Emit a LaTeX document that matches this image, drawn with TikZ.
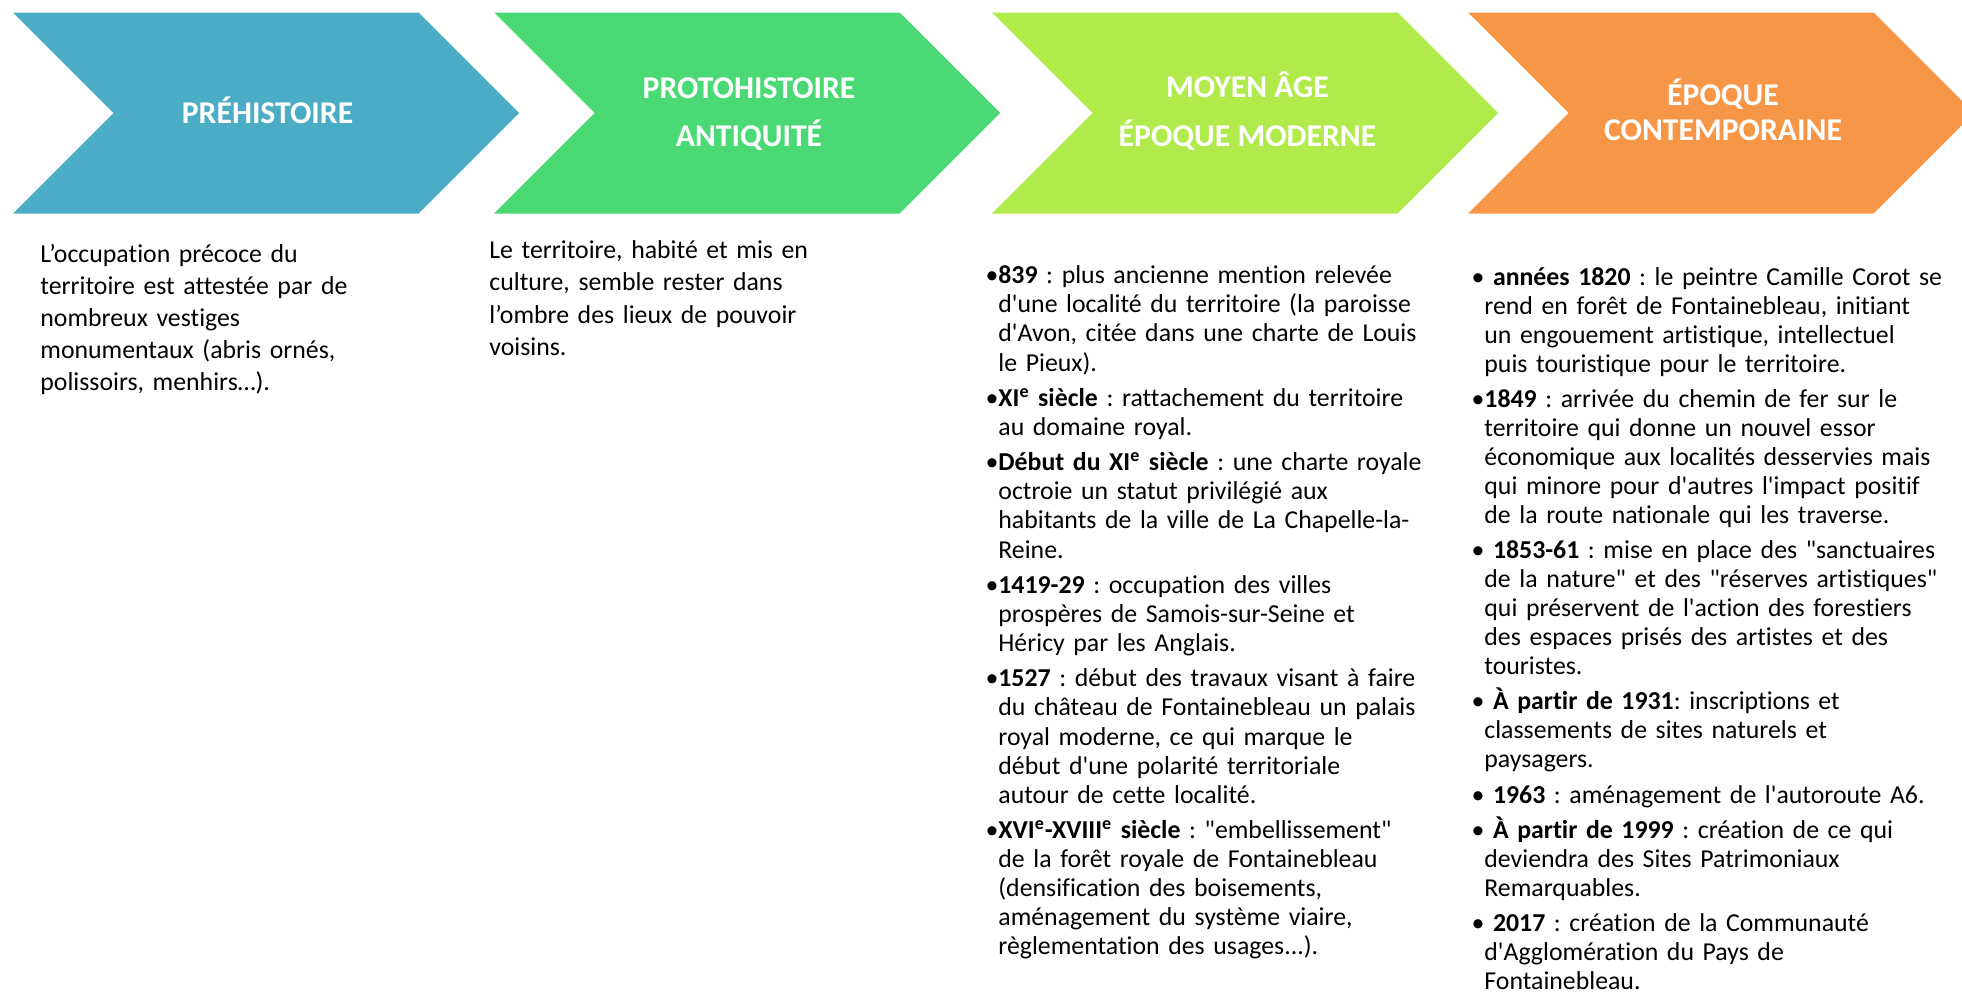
\documentclass[tikz,border=0pt]{standalone}
\usepackage{fontspec}
\setmainfont{Carlito}
\newfontfamily\carl{Carlito}[Ligatures=NoCommon]
\usepackage{tikz}
\definecolor{prehist}{HTML}{4BACC6}
\definecolor{protohist}{HTML}{4AD974}
\definecolor{moyenage}{HTML}{B0EB4B}
\definecolor{contemp}{HTML}{F79646}
\frenchspacing
\newcommand\hdfont{\carl\bfseries\fontsize{15.85pt}{19pt}\selectfont}
\newcommand\txtfont{\carl\fontsize{12.9pt}{16.1pt}\selectfont}
\newcommand\evtfont{\carl\fontsize{12.9pt}{14.55pt}\selectfont}
\newcommand\eme{\textsuperscript{e}}
\newcommand\bul{\leavevmode\llap{•}}
\tikzset{head/.style={text=white,font=\hdfont,anchor=base,inner sep=0pt},txt/.style={anchor=north west,inner sep=0pt,text width=250pt,align=left,font=\txtfont},evt/.style={txt,font=\evtfont}}
\begin{document}
\begin{tikzpicture}[x=0.5pt,y=-0.5pt]
\useasboundingbox (0,0) rectangle (1962,991);
\clip (0,0) rectangle (1962,991);
\foreach \l/\c in {13/prehist,494/protohist,992/moyenage,1468/contemp}
 {\fill[\c] (\l,12.5) -- ++(405.5,0) -- ++(100.5,100.5) -- ++(-100.5,100.5) -- ++(-405.5,0) -- ++(100.5,-100.5) -- cycle;}
\foreach \x/\y/\t/\n in {267.5/123.3/PRÉHISTOIRE/h1,749/98/PROTOHISTOIRE/h2a,749/146.5/ANTIQUITÉ/h2b,1247.5/97.5/MOYEN ÂGE/h3a,1247.5/146.5/ÉPOQUE MODERNE/h3b,1723/105/ÉPOQUE/h4a,1723/140/CONTEMPORAINE/h4b}
 {\node[head] (\n) at (\x,\y) {\t};}
\node[txt] (prehtxt) at (40,239.7) {\rule{0pt}{11pt}L’occupation précoce du\\territoire est attestée par de\\nombreux vestiges\\monumentaux (abris ornés,\\polissoirs, menhirs…).};
\node[txt] (prototxt) at (489,236.3) {\rule{0pt}{11pt}Le territoire, habité et mis en\\culture, semble rester dans\\l’ombre des lieux de pouvoir\\voisins.};
\node[evt] (moyentxt) at (998,261.3) {\rule{0pt}{11pt}\bul\textbf{839} : plus ancienne mention relevée\\d'une localité du territoire (la paroisse\\d'Avon, citée dans une charte de Louis\\le Pieux).\\[3.1pt]
\bul\textbf{XI\eme{} siècle} : rattachement du territoire\\au domaine royal.\\[3.1pt]
\bul\textbf{Début du XI\eme{} siècle} : une charte royale\\octroie un statut privilégié aux\\habitants de la ville de La Chapelle-la-\\Reine.\\[3.1pt]
\bul\textbf{1419-29} : occupation des villes\\prospères de Samois-sur-Seine et\\Héricy par les Anglais.\\[3.1pt]
\bul\textbf{1527} : début des travaux visant à faire\\du château de Fontainebleau un palais\\royal moderne, ce qui marque le\\début d'une polarité territoriale\\autour de cette localité.\\[3.1pt]
\bul\textbf{XVI\eme-XVIII\eme{} siècle} : "embellissement"\\de la forêt royale de Fontainebleau\\(densification des boisements,\\aménagement du système viaire,\\règlementation des usages...).};
\node[evt,font=\carl\fontsize{12.9pt}{14.45pt}\selectfont] (contemptxt) at (1484,263) {\rule{0pt}{11pt}\bul\ \textbf{années 1820} : le peintre Camille Corot se\\rend en forêt de Fontainebleau, initiant\\un engouement artistique, intellectuel\\puis touristique pour le territoire.\\[3.3pt]
\bul\textbf{1849} : arrivée du chemin de fer sur le\\territoire qui donne un nouvel essor\\économique aux localités desservies mais\\qui minore pour d'autres l'impact positif\\de la route nationale qui les traverse.\\[3.3pt]
\bul\ \textbf{1853-61} : mise en place des "sanctuaires\\de la nature" et des "réserves artistiques"\\qui préservent de l'action des forestiers\\des espaces prisés des artistes et des\\touristes.\\[3.3pt]
\bul\ \textbf{À partir de 1931}: inscriptions et\\classements de sites naturels et\\paysagers.\\[3.3pt]
\bul\ \textbf{1963} : aménagement de l'autoroute A6.\\[3.3pt]
\bul\ \textbf{À partir de 1999} : création de ce qui\\deviendra des Sites Patrimoniaux\\Remarquables.\\[3.3pt]
\bul\ \textbf{2017} : création de la Communauté\\d'Agglomération du Pays de\\Fontainebleau.};
\end{tikzpicture}
\end{document}
